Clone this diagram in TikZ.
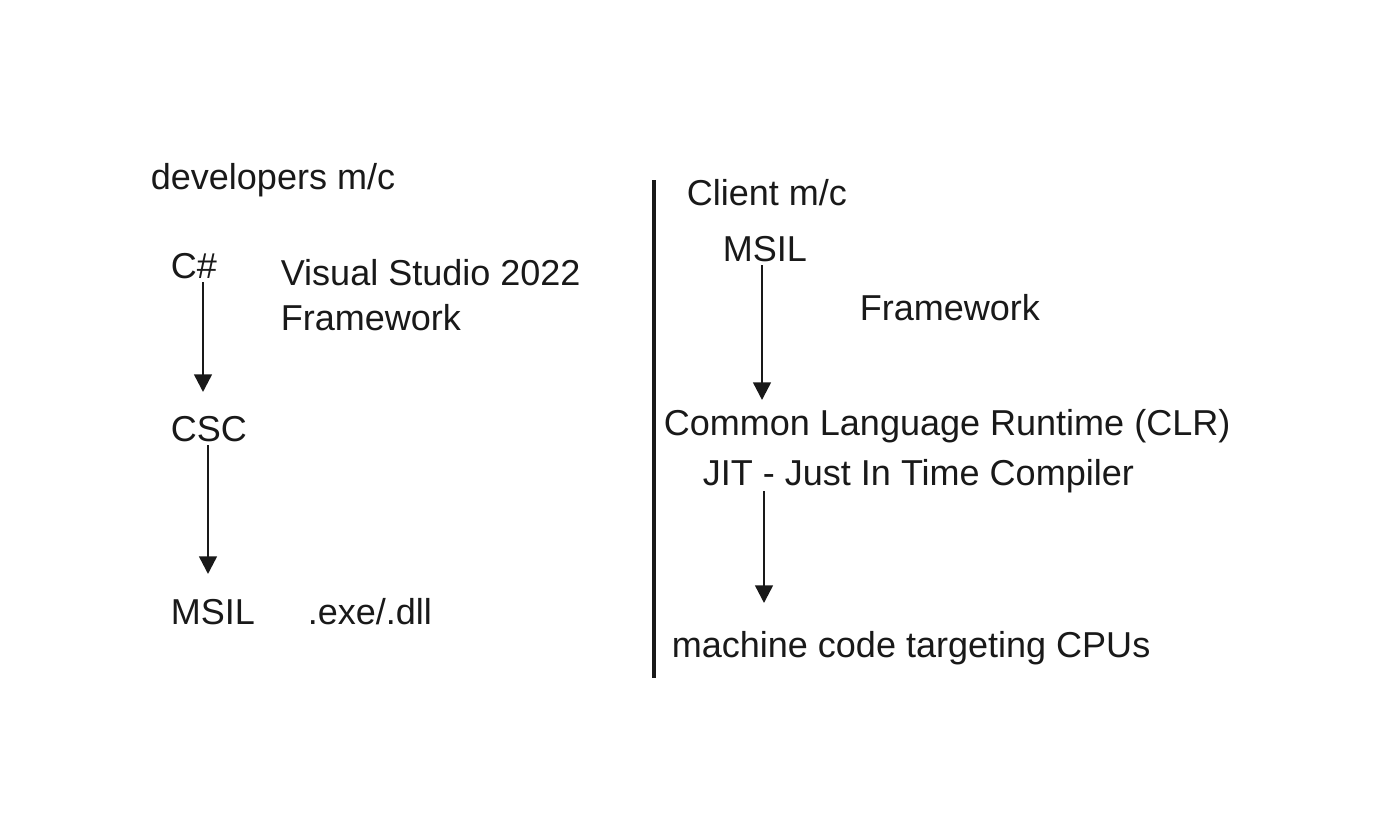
\documentclass[tikz,border=0pt]{standalone}
\usepackage{fontspec}
\setmainfont{Liberation Sans}
\usetikzlibrary{arrows.meta}

\begin{document}
\begin{tikzpicture}[x=0.02cm,y=-0.02cm,
    lbl/.style={anchor=base west,inner sep=2pt,font=\fontsize{20.5}{24}\selectfont,text=black!90},
    flow/.style={line width=1.4pt,black!90,-{Triangle[length=10pt,width=10pt]}}]
            \useasboundingbox (0,0) rectangle (1395,828);

            % developers machine
            \node[lbl] (devmc) at (147,189) {developers m/c};
            \node[lbl] (csharp) at (167,278) {C\#};
            \node[lbl] (vs) at (277,285) {Visual Studio 2022};
            \node[lbl] (fwleft) at (277,330) {Framework};
            \node[lbl] (csc) at (167,441) {CSC};
            \node[lbl] (msilleft) at (167,624) {MSIL};
            \node[lbl] (exedll) at (304,624) {.exe/.dll};

            % client machine
            \node[lbl] (clientmc) at (683,205) {Client m/c};
            \node[lbl] (msilright) at (719,261) {MSIL};
            \node[lbl] (fwright) at (856,320) {Framework};
            \node[lbl] (clr) at (660,435) {Common Language Runtime (CLR)};
            \node[lbl] (jit) at (699,485) {JIT - Just In Time Compiler};
            \node[lbl] (machine) at (668,657) {machine code targeting CPUs};

            \draw[line width=1.8pt,black!90] (654,180)--(654,678);

            \coordinate (tipA) at (203,392);
            \coordinate (tipB) at (208,574);
            \coordinate (tipC) at (762,400);
            \coordinate (tipD) at (764,603);

            \draw[flow] (csharp.south -| tipA) -- (tipA);
            \draw[flow] (csc.south -| tipB) -- (tipB);
            \draw[flow] (msilright.south -| tipC) -- (tipC);
            \draw[flow] (764,491) -- (tipD);
        \end{tikzpicture}
\end{document}
